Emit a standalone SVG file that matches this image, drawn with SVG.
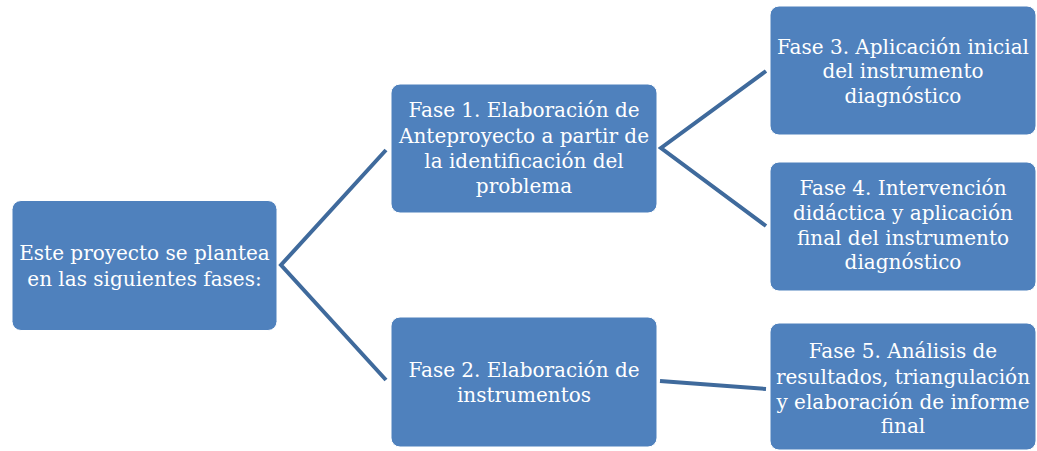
<svg xmlns="http://www.w3.org/2000/svg" width="1037" height="451" viewBox="0 0 1037 451">
<style>
.box{fill:#4F81BD;stroke:#ffffff;stroke-width:1}
.t{font-family:"DejaVu Serif","Liberation Serif",serif;font-size:20px;fill:#ffffff;text-anchor:middle}
.c{stroke:#3F6A9C;stroke-width:4;fill:none;stroke-linejoin:miter}
</style>
<rect width="1037" height="451" fill="#ffffff"/>
<g id="connectors">
<polyline class="c" points="386,150 281,265 386,380"/>
<polyline class="c" points="766,71 661,148 766,226"/>
<line class="c" x1="660" y1="381" x2="766" y2="389"/>
</g>
<g id="root">
<rect class="box" x="12" y="200.5" width="265" height="130" rx="9"/>
<text class="t" x="144.5" y="260">Este proyecto se plantea</text>
<text class="t" x="144.5" y="286">en las siguientes fases:</text>
</g>
<g id="fase1">
<rect class="box" x="391" y="84" width="266" height="129" rx="9"/>
<text class="t" x="524" y="117">Fase 1. Elaboración de</text>
<text class="t" x="524" y="142.5">Anteproyecto a partir de</text>
<text class="t" x="524" y="168">la identificación del</text>
<text class="t" x="524" y="193">problema</text>
</g>
<g id="fase2">
<rect class="box" x="391" y="317" width="266" height="130" rx="9"/>
<text class="t" x="524" y="377">Fase 2. Elaboración de</text>
<text class="t" x="524" y="402">instrumentos</text>
</g>
<g id="fase3">
<rect class="box" x="770" y="6" width="266" height="129" rx="9"/>
<text class="t" x="903" y="53.5">Fase 3. Aplicación inicial</text>
<text class="t" x="903" y="78">del instrumento</text>
<text class="t" x="903" y="103">diagnóstico</text>
</g>
<g id="fase4">
<rect class="box" x="770" y="162" width="266" height="129" rx="9"/>
<text class="t" x="903" y="195">Fase 4. Intervención</text>
<text class="t" x="903" y="220">didáctica y aplicación</text>
<text class="t" x="903" y="244.5">final del instrumento</text>
<text class="t" x="903" y="269">diagnóstico</text>
</g>
<g id="fase5">
<rect class="box" x="770" y="323" width="266" height="127" rx="9"/>
<text class="t" x="903" y="358">Fase 5. Análisis de</text>
<text class="t" x="903" y="384">resultados, triangulación</text>
<text class="t" x="903" y="409">y elaboración de informe</text>
<text class="t" x="903" y="433">final</text>
</g>
</svg>
